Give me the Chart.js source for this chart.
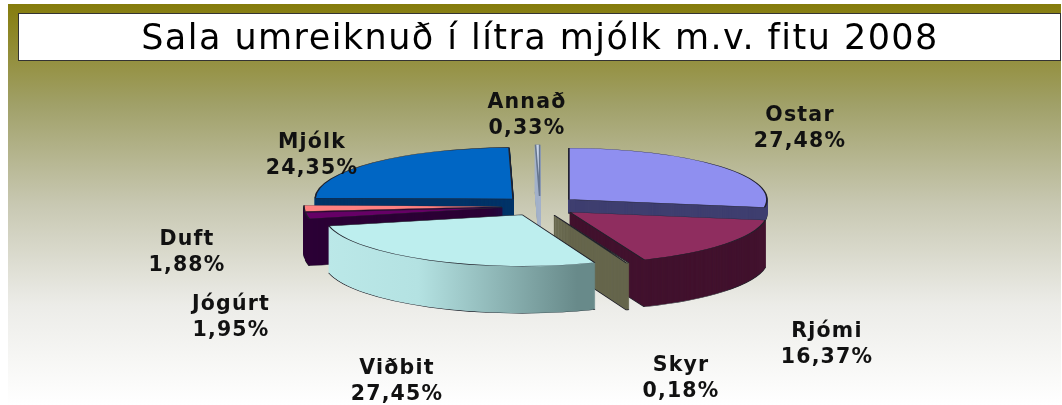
<!DOCTYPE html>
<html lang="is">
<head>
<meta charset="UTF-8">
<title>Sala umreiknuð í lítra mjólk m.v. fitu 2008</title>
<script src="https://cdn.jsdelivr.net/npm/chart.js@4/dist/chart.umd.min.js"></script>
<style>
  html, body { margin: 0; padding: 0; background: #fff; }
  canvas { display: block; }
</style>
</head>
<body>
<canvas id="myChart" width="1062" height="405"></canvas>
<script>
const titleText = 'Sala umreiknuð í lítra mjólk m.v. fitu 2008';
const categories = ['Ostar', 'Rjómi', 'Skyr', 'Viðbit', 'Jógúrt', 'Duft', 'Mjólk', 'Annað'];
const shares = [27.48, 16.37, 0.18, 27.45, 1.95, 1.88, 24.35, 0.33];

// colours of the top faces and of the walls
const topColors = ['#8f8ff0', '#8f2d5f', '#ffffcc', '#bdeeee', '#660066', '#ff8080', '#0066c4', '#c8d4e8'];
const sideColors = ['#3f3f70', '#42122e', '#66664c', null, '#2c0036', '#2c0036', '#003468', '#a4b2ca'];
const edgeColors = ['#20202a', '#20202a', '#20202a', '#20202a', '#20202a', '#20202a', '#20202a', '#66768e'];

// back to front
const drawOrder = [6, 0, 7, 5, 4, 1, 2, 3];
// label centres, two lines each
const labelSpots = [[800, 129], [827, 345], [681, 379], [397, 382], [231, 318], [187, 253], [312, 156], [527, 116]];
// wall height per slice, Ostar is cut short so it stays behind Rjómi
const wallHeights = [14, 47, 47, 47, 47, 47, 47, 47];

const center = { x: 540, y: 206 };
const squash = 0.26;
const explode = 38;

function sideFill(ctx, i) {
    if (sideColors[i]) return sideColors[i];
    const g = ctx.createLinearGradient(330, 0, 595, 0);
    g.addColorStop(0, '#bce9e9');
    g.addColorStop(0.4, '#b4e2e2');
    g.addColorStop(1, '#688a8a');
    return g;
}

const pie3d = {
    id: 'pie3d',
    beforeDraw(chart) {
        const { ctx, width, height } = chart;
        const g = ctx.createLinearGradient(0, 4, 0, height);
        g.addColorStop(0, '#857c0c');
        g.addColorStop(0.25, '#a0a068');
        g.addColorStop(0.5, '#c8c8b2');
        g.addColorStop(0.75, '#ecece8');
        g.addColorStop(1, '#ffffff');
        ctx.fillStyle = '#ffffff';
        ctx.fillRect(0, 0, width, height);
        ctx.fillStyle = g;
        ctx.fillRect(8, 4, width - 9, height - 4);
        ctx.fillStyle = '#ffffff';
        ctx.strokeStyle = '#333333';
        ctx.lineWidth = 1;
        ctx.fillRect(18.5, 13.5, 1042, 47);
        ctx.strokeRect(18.5, 13.5, 1042, 47);
        // the title plugin picks this up
        ctx.letterSpacing = '1.45px';
    },
    beforeDatasetDraw(chart, args) {
        const { ctx } = chart;
        const arcs = args.meta.data;
        drawOrder.forEach(i => {
            const arc = arcs[i];
            const base = arc.options;
            const mid = (arc.startAngle + arc.endAngle) / 2;
            const place = dy => {
                ctx.save();
                ctx.translate(center.x, center.y + dy);
                ctx.scale(1, squash);
                ctx.translate(-arc.x, -arc.y);
                ctx.translate(Math.cos(mid) * explode, Math.sin(mid) * explode);
            };
            const side = sideFill(ctx, i);
            const wall = wallHeights[i];
            for (let k = wall; k > 0; k--) {
                arc.options = Object.assign({}, base, {
                    backgroundColor: side,
                    borderColor: k === wall ? base.borderColor : side,
                    borderWidth: 1.6
                });
                place(k);
                arc.draw(ctx);
                ctx.restore();
            }
            arc.options = base;
            place(0);
            arc.draw(ctx);
            ctx.restore();
        });
        return false;
    },
    afterDraw(chart) {
        const { ctx } = chart;
        ctx.save();
        ctx.font = 'bold 20.5px "DejaVu Sans"';
        ctx.letterSpacing = '1.2px';
        ctx.fillStyle = '#111111';
        ctx.textAlign = 'center';
        ctx.textBaseline = 'middle';
        categories.forEach((name, i) => {
            const [x, y] = labelSpots[i];
            ctx.fillText(name, x, y - 13);
            ctx.fillText(shares[i].toFixed(2).replace('.', ',') + '%', x, y + 13);
        });
        ctx.restore();
    }
};

new Chart(document.getElementById('myChart'), {
    type: 'pie',
    data: {
        labels: categories,
        datasets: [{
            data: shares,
            backgroundColor: topColors,
            borderColor: edgeColors,
            borderWidth: 1.6,
            radius: 198,
            clip: false
        }]
    },
    options: {
        responsive: false,
        animation: false,
        events: [],
        layout: { padding: { left: 18 } },
        plugins: {
            legend: { display: false },
            tooltip: { enabled: false },
            title: {
                display: true,
                text: titleText,
                color: '#000000',
                font: { family: '"DejaVu Sans"', size: 35, weight: 'normal' },
                padding: { top: 19, bottom: 0 }
            }
        }
    },
    plugins: [pie3d]
});
</script>
</body>
</html>
